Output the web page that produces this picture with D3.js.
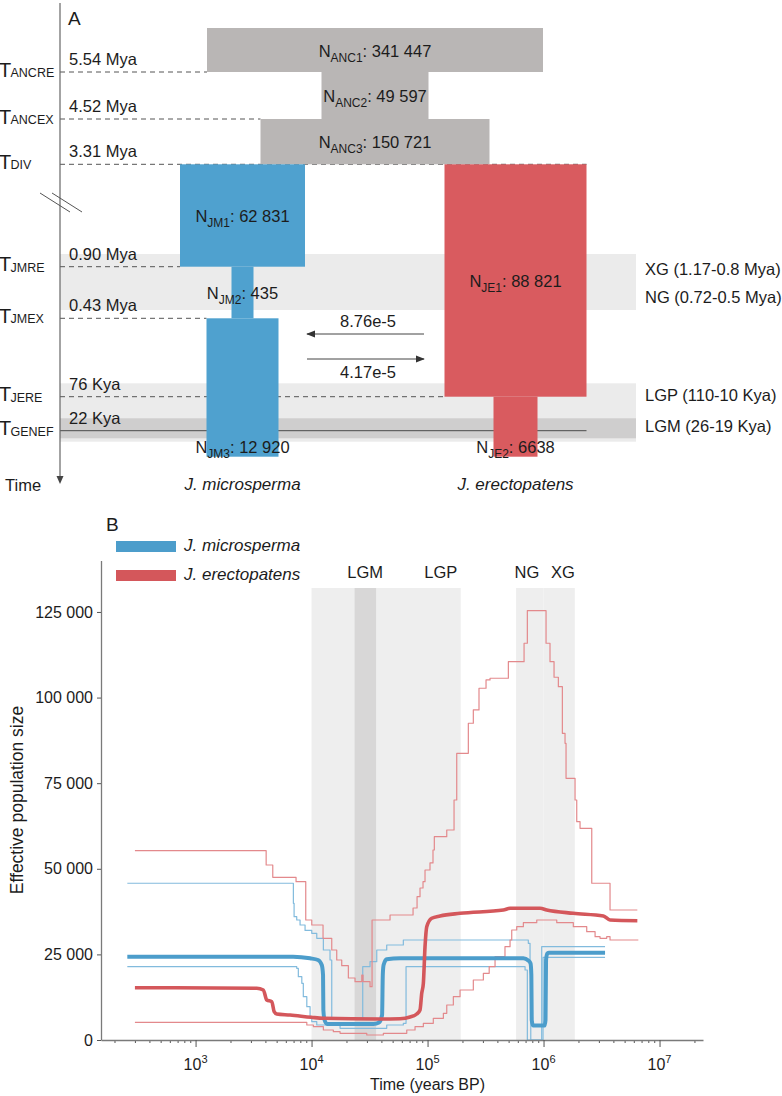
<!DOCTYPE html>
<html><head><meta charset="utf-8">
<script src="https://cdn.jsdelivr.net/npm/d3@7"></script>
<style>body{margin:0;background:#fff} svg{display:block;font-family:"Liberation Sans",Arial,Helvetica,sans-serif}</style>
</head><body><svg id="chart" width="782" height="1096"></svg>
<script>
// ================= DATA : panel A (demographic model) =================
const eventNames  = ["ANCRE","ANCEX","DIV","JMRE","JMEX","JERE","GENEF"];
const eventTimes  = [5.54, 4.52, 3.31, 0.90, 0.43, 0.076, 0.022];          // Mya
const eventLabels = ["5.54 Mya","4.52 Mya","3.31 Mya","0.90 Mya","0.43 Mya","76 Kya","22 Kya"];
const popNames    = ["ANC1","ANC2","ANC3","JM1","JM2","JM3","JE1","JE2"];
const popSizes    = [341447, 49597, 150721, 62831, 435, 12920, 88821, 6638];
const popLineage  = ["ANC","ANC","ANC","JM","JM","JM","JE","JE"];
const popFrom     = ["root","ANCRE","ANCEX","DIV","JMRE","JMEX","DIV","JERE"];
const popTo       = ["ANCRE","ANCEX","DIV","JMRE","JMEX","present","JERE","present"];
const migRates    = [8.76e-5, 4.17e-5];
const migFrom     = ["JE","JM"];
const migTo       = ["JM","JE"];
const periodNames  = ["XG","NG","LGP","LGM"];
const periodLabels = ["XG (1.17-0.8 Mya)","NG (0.72-0.5 Mya)","LGP (110-10 Kya)","LGM (26-19 Kya)"];
const periodStart  = [1.17, 0.72, 0.110, 0.026];   // Mya
const periodEnd    = [0.80, 0.50, 0.010, 0.019];   // Mya
const speciesNames = ["J. microsperma","J. erectopatens"];
const speciesKeys  = ["JM","JE"];

// ================= DATA : panel B (PSMC-like trajectories) =================
// [years BP, effective population size]
const jmMedian = [[258,24330],[6930,24330],[9710,23860],[11370,23360],[12250,21900],[12560,18980],[12640,8760],[12940,5840],[13620,4670],[34120,4670],[38170,5110],[40550,7300],[41120,18980],[41780,21900],[44460,23570],[57960,23860],[669900,23860],[739000,23220],[772700,22340],[785000,18980],[791000,5840],[811000,4230],[1021000,4230],[1040000,5840],[1051000,23360],[1079000,25260],[1115000,25500],[3390000,25500]];
const jmUpper = [[258,45770],[6970,39920],[7070,36010],[7450,35050],[7960,33590],[8790,32000],[10040,31160],[11090,29700],[12640,26290],[14430,23360],[14930,6340],[27610,21410],[31920,22870],[36480,26290],[44460,27750],[61840,29210],[739000,28240],[765000,22400],[776000,0],[964000,27250],[3390000,27250]];
const jmLower = [[258,21410],[7450,20940],[7690,18490],[8240,16560],[8490,12650],[9100,9730],[9710,6800],[10040,5340],[11090,4380],[17610,3420],[44460,4380],[61840,4880],[65260,21410],[693000,20440],[725000,0],[990000,24150],[3390000,24150]];
const jeMedian = [[300,15280],[3370,15100],[3840,14600],[4110,11680],[4540,11190],[4760,8270],[5010,7590],[6530,7300],[9960,6630],[12640,6340],[38960,6130],[57960,6220],[70640,6720],[80700,7590],[86100,8760],[89100,13640],[92000,16560],[95100,27250],[98400,33090],[108600,35540],[128200,36220],[190600,37000],[450100,37970],[514300,38460],[933000,38460],[1066000,37970],[1806000,37000],[3280000,36220],[3743000,35050],[6437000,34840]];
const jeUpper = [[300,55290],[4060,51110],[4630,47520],[7350,46230],[8910,35050],[10040,33590],[12560,29700],[14930,26290],[16480,23360],[18200,21700],[20760,18110],[23710,17030],[27090,18980],[27790,17030],[31920,15570],[33240,35050],[47500,36510],[75000,38550],[81200,41850],[86100,44390],[91400,46230],[95100,49650],[105000,51700],[111400,55490],[114400,59380],[146400,61330],[169200,70090],[178500,83730],[224700,92500],[248100,96380],[277700,102720],[319300,105140],[345700,105640],[497400,110490],[679400,115860],[725000,125380],[1051000,115860],[1137000,110490],[1232000,105930],[1342000,103190],[1453000,89570],[1532000,86650],[1563000,76430],[1869000,70090],[1933000,63760],[2064000,61830],[2604000,45770],[3743000,37970],[6437000,37970]];
const jeLower = [[300,5170],[9100,4380],[10370,3880],[12640,2920],[15410,2420],[17610,1960],[29910,1460],[41590,1960],[66200,2920],[78000,3880],[92000,4880],[112100,6340],[136900,7800],[146400,10220],[166900,12650],[190600,14600],[248100,17520],[302800,19480],[340000,21410],[381900,24330],[465100,27250],[514300,29210],[531800,32130],[587300,33090],[669900,34260],[874000,35050],[1300000,34260],[1806000,33090],[2357000,31630],[2782000,30170],[3070000,29700],[3505000,30170],[3743000,29210],[6565000,29210]];
const bandNamesB  = ["XG","NG","LGP","LGM"];
const bandStartB  = [1000000, 580000, 10000, 23500];   // years BP as drawn
const bandEndB    = [1860000, 1000000, 193000, 36000];
const bandLabelAtB = [1470000, 720000, 130000, 29000];
const yTicksB = [0, 25000, 50000, 75000, 100000, 125000];
const xMajorB = [1e3, 1e4, 1e5, 1e6, 1e7];
const xMinorB = [2,3,4,5,6,7,8,9].flatMap(m => [1e2,1e3,1e4,1e5,1e6,1e7].map(p => m*p));
const legendLabelsB = ["J. microsperma","J. erectopatens"];

// ================= STYLE =================
const BLUE = "#4fa1cf", RED = "#d95b5f", GREY_BOX = "#b9b6b5";
const BLUE_B = "#4c9dcb", BLUE_THIN = "#82bbdd", RED_B = "#d4575b", RED_THIN = "#e3898c";
const BAND = "#ebebeb", BAND_DARK = "#cfcece", BAND_B = "#eeeeee", BAND_B_DARK = "#d8d7d7";
const INK = "#1c1c1c", AXIS = "#7a7a7a";
const colorOf = {ANC: GREY_BOX, JM: BLUE, JE: RED};

const svg = d3.select("#chart");
const sp = v => v >= 10000 ? d3.format(",d")(v).replace(/,/g, " ") : String(v);

// ================= PANEL A =================
const gA = svg.append("g");
const axisX = 60, bandRight = 636;
// schematic (non-linear) time scale
const yA = d3.scaleLinear()
  .domain([6.2, 5.54, 4.52, 3.31, 1.17, 0.90, 0.5, 0.43, 0.110, 0.076, 0.026, 0.022, 0.019, 0.010, 0])
  .range([28, 72, 119, 164.3, 254, 266.7, 310, 318.3, 383.3, 396.7, 418.3, 430.7, 438.3, 441.7, 456.7]);
const tOf = k => k === "root" ? 6.2 : k === "present" ? 0 : eventTimes[eventNames.indexOf(k)];
const widthA = d3.scaleLinear()
  .domain([435, 6638, 12920, 49597, 62831, 88821, 150721, 341447])
  .range([22, 44, 72, 107, 125, 142, 229, 336]);
const centerA = d3.scaleOrdinal().domain(["JM","ANC","JE"]).range([242.5, 375, 515.5]);

const pops = popNames.map((n, i) => {
  const w = widthA(popSizes[i]), c = centerA(popLineage[i]);
  return {name: n, size: popSizes[i], lin: popLineage[i], x0: c - w/2, x1: c + w/2,
          y0: yA(tOf(popFrom[i])), y1: yA(tOf(popTo[i]))};
});
const popByName = Object.fromEntries(pops.map(p => [p.name, p]));

// bands
const bandsA = [
  {from: d3.max(periodStart.slice(0,2)), to: d3.min(periodEnd.slice(0,2)), fill: BAND},
  {from: periodStart[2], to: periodEnd[2], fill: BAND},
  {from: periodStart[3], to: periodEnd[3], fill: BAND_DARK}
];
gA.selectAll("rect.band").data(bandsA).join("rect")
  .attr("x", axisX).attr("width", bandRight - axisX)
  .attr("y", d => yA(d.from)).attr("height", d => yA(d.to) - yA(d.from))
  .attr("fill", d => d.fill);

// event lines
const lineTo = [["ANC1","x0"],["ANC3","x0"],["JE1","x1"],["JM1","x0"],["JM3","x0"],["JE1","x0"],["JE1","x1"]];
eventNames.forEach((e, i) => {
  const y = yA(eventTimes[i]);
  const x2 = popByName[lineTo[i][0]][lineTo[i][1]];
  gA.append("line").attr("x1", axisX).attr("x2", x2).attr("y1", y).attr("y2", y)
    .attr("stroke", e === "GENEF" ? "#4a4a4a" : "#555")
    .attr("stroke-width", 1)
    .attr("stroke-dasharray", e === "GENEF" ? null : "5,4");
  gA.append("text").attr("x", 69).attr("y", y - 7).attr("font-size", 16.5).attr("fill", INK).text(eventLabels[i]);
  const t = gA.append("text").attr("x", -1).attr("y", y + 4.5).attr("fill", INK);
  t.append("tspan").attr("font-size", 20).text("T");
  t.append("tspan").attr("font-size", 12.5).attr("x", 10.5).attr("dy", 0.5).text(e);
});

// boxes
gA.selectAll("rect.pop").data(pops).join("rect")
  .attr("x", d => d.x0).attr("y", d => d.y0)
  .attr("width", d => d.x1 - d.x0).attr("height", d => d.y1 - d.y0)
  .attr("fill", d => colorOf[d.lin]);

// N labels
pops.forEach(p => {
  const bottom = popTo[popNames.indexOf(p.name)] === "present";
  const y = bottom ? p.y1 - 3.5 : (p.y0 + p.y1) / 2 + 6.5;
  const t = gA.append("text").attr("x", (p.x0 + p.x1) / 2).attr("y", y)
    .attr("text-anchor", "middle").attr("font-size", 16.5).attr("fill", INK);
  t.append("tspan").text("N");
  t.append("tspan").attr("font-size", 12).attr("dy", 5).text(p.name);
  t.append("tspan").attr("dy", -5).text(": " + sp(p.size));
});

// time axis
gA.append("line").attr("x1", axisX).attr("x2", axisX).attr("y1", 3).attr("y2", 478)
  .attr("stroke", "#666").attr("stroke-width", 1.2);
gA.append("path").attr("d", `M${axisX-3.5},476 L${axisX+3.5},476 L${axisX},484 Z`).attr("fill", "#444");
gA.append("text").attr("x", 5).attr("y", 491).attr("font-size", 16.5).attr("fill", INK).text("Time");
// axis break
[0, 12].forEach(dx => {
  gA.append("line").attr("x1", 40 + dx).attr("y1", 193).attr("x2", 70 + dx).attr("y2", 212)
    .attr("stroke", "#555").attr("stroke-width", 1);
});
gA.append("text").attr("x", 68).attr("y", 25).attr("font-size", 19).attr("fill", INK).text("A");

// migration arrows
const defs = svg.append("defs");
defs.append("marker").attr("id", "ah").attr("viewBox", "0 0 10 10").attr("refX", 9).attr("refY", 5)
  .attr("markerWidth", 9).attr("markerHeight", 9).attr("markerUnits", "userSpaceOnUse").attr("orient", "auto")
  .append("path").attr("d", "M0,1 L10,5 L0,9 Z").attr("fill", "#333");
const migX = {JM: 307, JE: 424};
const migY = [334, 359];
migRates.forEach((r, i) => {
  gA.append("line").attr("x1", migX[migFrom[i]]).attr("x2", migX[migTo[i]])
    .attr("y1", migY[i]).attr("y2", migY[i]).attr("stroke", "#444").attr("stroke-width", 1)
    .attr("marker-end", "url(#ah)");
  gA.append("text").attr("x", 368).attr("y", i === 0 ? migY[i] - 7 : migY[i] + 18.5)
    .attr("text-anchor", "middle").attr("font-size", 16.5).attr("fill", INK)
    .text(d3.format(".2e")(r).replace(/e-0?/, "e-"));
});

// period labels (right)
const periodLabelY = [275, 303, 401, 432];
periodLabels.forEach((l, i) => {
  gA.append("text").attr("x", 645).attr("y", periodLabelY[i]).attr("font-size", 16.5).attr("fill", INK).text(l);
});
// species labels
speciesNames.forEach((s, i) => {
  gA.append("text").attr("x", centerA(speciesKeys[i])).attr("y", 490).attr("text-anchor", "middle")
    .attr("font-size", 17).attr("font-style", "italic").attr("fill", INK).text(s);
});

// ================= PANEL B =================
const gB = svg.append("g");
const xB = d3.scaleLog().domain([153, 2.37e7]).range([101, 703]);
const yB = d3.scaleLinear().domain([0, 140000]).range([1040, 560.6]);
const bandTopB = 588;

bandNamesB.forEach((b, i) => {
  gB.append("rect").attr("x", xB(bandStartB[i])).attr("width", xB(bandEndB[i]) - xB(bandStartB[i]))
    .attr("y", bandTopB).attr("height", yB(0) - bandTopB)
    .attr("fill", b === "LGM" ? BAND_B_DARK : BAND_B);
  gB.append("text").attr("x", xB(bandLabelAtB[i])).attr("y", 578).attr("text-anchor", "middle")
    .attr("font-size", 16.5).attr("fill", INK).text(b);
});

const lineSmooth = d3.line().x(d => xB(d[0])).y(d => yB(d[1])).curve(d3.curveMonotoneX);
const lineStep = d3.line().x(d => xB(d[0])).y(d => yB(d[1])).curve(d3.curveStepAfter);
const series = [
  {d: jmUpper, gen: lineStep, c: BLUE_THIN, w: 1.2},
  {d: jmLower, gen: lineStep, c: BLUE_THIN, w: 1.2},
  {d: jeUpper, gen: lineStep, c: RED_THIN, w: 1.2},
  {d: jeLower, gen: lineStep, c: RED_THIN, w: 1.2},
  {d: jmMedian, gen: lineSmooth, c: BLUE_B, w: 4},
  {d: jeMedian, gen: lineSmooth, c: RED_B, w: 3.6}
];
series.forEach(s => {
  gB.append("path").attr("d", s.gen(s.d)).attr("fill", "none").attr("stroke", s.c)
    .attr("stroke-width", s.w).attr("stroke-linejoin", "round").attr("stroke-linecap", "butt");
});

// axes
const fmtB = v => sp(v).replace(/^(\d{1,3})(\d{3})$/, "$1 $2");
const yAxis = gB.append("g").attr("transform", "translate(101,0)")
  .call(d3.axisLeft(yB).tickValues(yTicksB).tickSize(4).tickSizeOuter(0).tickPadding(4).tickFormat(fmtB));
const minorVals = xMinorB.filter(v => v >= 153 && v <= 2.37e7);
const xAxisMinor = gB.append("g").attr("transform", "translate(0,1040)")
  .call(d3.axisBottom(xB).tickValues(minorVals).tickSize(3).tickSizeOuter(0).tickFormat(""));
const xAxis = gB.append("g").attr("transform", "translate(0,1040)")
  .call(d3.axisBottom(xB).tickValues(xMajorB).tickSize(7).tickSizeOuter(0).tickFormat(""));
[yAxis, xAxisMinor, xAxis].forEach(a => {
  a.selectAll(".domain").attr("stroke", AXIS).attr("stroke-width", 1.3);
  a.selectAll(".tick line").attr("stroke", "#555");
  a.selectAll("text").attr("font-size", 16).attr("fill", INK).attr("font-family", '"Liberation Sans",Arial,sans-serif');
});
xAxisMinor.select(".domain").remove();
xMajorB.forEach(v => {
  const t = gB.append("text").attr("x", xB(v)).attr("y", 1070).attr("text-anchor", "middle")
    .attr("font-size", 16).attr("fill", INK);
  t.append("tspan").text("10");
  t.append("tspan").attr("font-size", 11).attr("dy", -7).text(Math.round(Math.log10(v)));
});
gB.append("text").attr("x", xB(Math.sqrt(1e4 * 1e6))).attr("y", 1090).attr("text-anchor", "middle")
  .attr("font-size", 16).attr("fill", INK).text("Time (years BP)");
gB.append("text").attr("transform", "translate(23,800) rotate(-90)").attr("text-anchor", "middle")
  .attr("font-size", 17.5).attr("fill", INK).text("Effective population size");
gB.append("text").attr("x", 106).attr("y", 531).attr("font-size", 19).attr("fill", INK).text("B");

// legend
[BLUE_B, RED_B].forEach((c, i) => {
  gB.append("rect").attr("x", 116).attr("y", 541 + i * 29).attr("width", 60).attr("height", 11).attr("fill", c);
  gB.append("text").attr("x", 184).attr("y", 550.5 + i * 29).attr("font-size", 17).attr("font-style", "italic")
    .attr("fill", INK).text(legendLabelsB[i]);
});
</script>
</body></html>
